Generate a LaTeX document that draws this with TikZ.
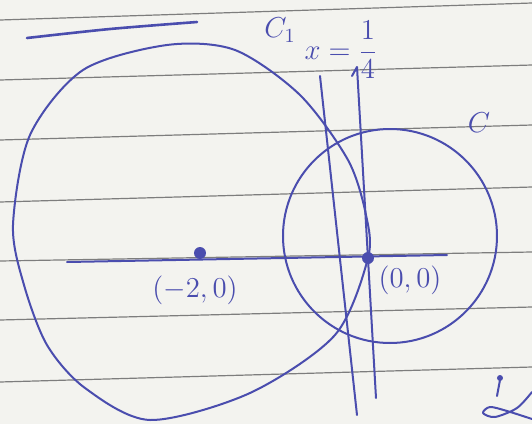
\documentclass[tikz,border=0pt]{standalone}
\usepackage{tikz}
\usepackage{xcolor}
\usetikzlibrary{positioning}
\definecolor{ink}{HTML}{4A4DAE}
\definecolor{paper}{HTML}{F3F3EF}
\definecolor{rule}{HTML}{5C5C5C}

\begin{document}
\begin{tikzpicture}[x=0.5pt, y=-0.5pt,
  pen/.style={draw=ink, line width=1pt, line cap=round, line join=round},
  ruling/.style={draw=rule!80, line width=0.6pt},
  pt/.style={circle, fill=ink, inner sep=0pt, minimum size=6pt},
  lbl/.style={text=ink, font=\fontsize{14}{14}\selectfont, inner sep=1pt}]

  % Paper
  \fill[paper] (0,0) rectangle (532,424);
  \useasboundingbox (0,0) rectangle (532,424);

  % Ruled lines
  \foreach \l/\r in {20/3, 80/65, 140/125, 202/187, 261/252, 320/307, 382/367} {
    \draw[ruling] (0,\l) -- (532,\r);
  }

  % Heading underline
  \draw[pen, line width=1.3pt] plot[smooth] coordinates {(27,38) (110,29) (197,22)};

  % Points
  \node[pt] (m) at (200,253) {};
  \node[pt] (o) at (368,258) {};

  % Axis and verticals
  \coordinate (xl) at (67,262);
  \coordinate (xr) at (447,255);
  \coordinate (a1) at (357,67);
  \coordinate (a2) at (376,398);
  \coordinate (ah) at (352,76);
  \coordinate (b1) at (320,76);
  \coordinate (b2) at (357,415);
  \draw[pen] (xl) -- (xr);
  \draw[pen] (ah) -- (a1) -- (a2);
  \draw[pen] (b1) -- (b2);

  % Circle C
  \draw[pen] (390,236) circle[radius=107];

  % Circle C1
  \draw[pen] plot[smooth cycle] coordinates {
    (368,258) (335,335) (250,393) (150,420) (85,388) (47,345) (24,285)
    (13,225) (30,135) (83,70) (167,45) (235,50) (300,95) (348,160) (366,215)};

  % Labels
  \node[lbl] (lc1) at (280,30) {$C_1$};
  \node[lbl] (lx) at (341,50) {$x=\displaystyle\frac{1}{4}$};
  \node[lbl] (lc) at (479,123) {$C$};
  \node[lbl] (lm) at (195,290) {$(-2,0)$};
  \node[lbl] (lo) at (410,280) {$(0,0)$};

  % Mark at the corner
  \fill[ink] (500,378) circle[radius=3];
  \draw[pen] (500,380) -- (497,396);
  \draw[pen] plot[smooth] coordinates {(532,392) (517,408) (495,417) (483,413) (490,407) (507,411) (532,419)};
\end{tikzpicture}
\end{document}
